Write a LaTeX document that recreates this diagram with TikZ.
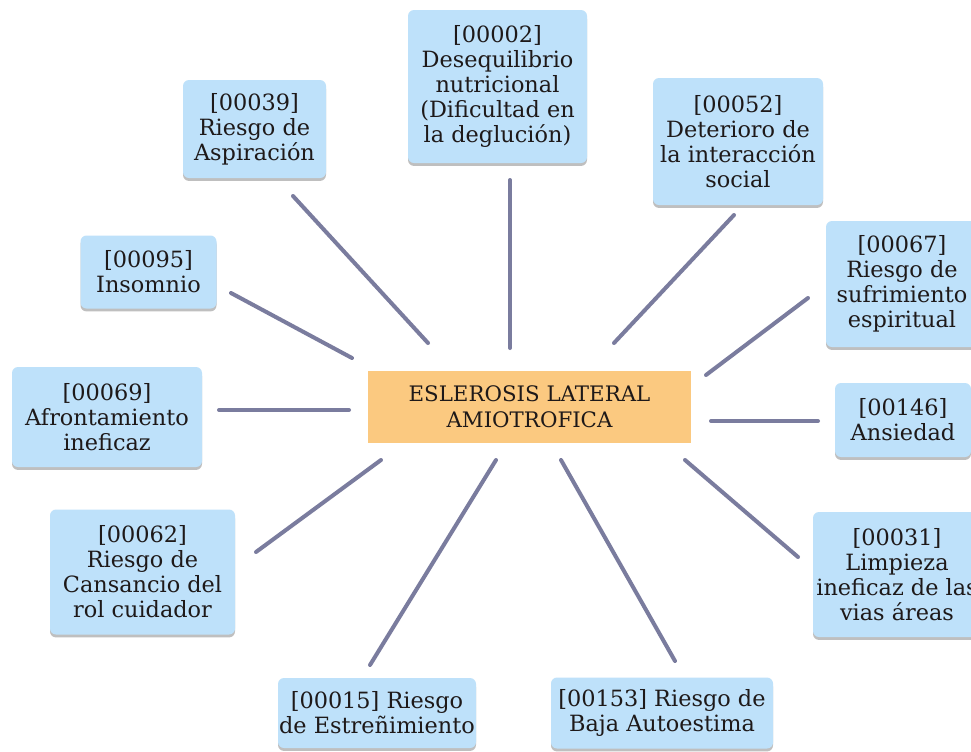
\documentclass[tikz,border=0pt]{standalone}
\usepackage{fontspec}
\setmainfont{DejaVu Serif}
\usetikzlibrary{shadows}
\definecolor{boxblue}{RGB}{190,225,250}
\definecolor{boxorange}{RGB}{251,201,128}
\definecolor{linkcol}{RGB}{122,124,158}
\definecolor{txtcol}{RGB}{30,25,25}
\tikzset{
  nbox/.style={rectangle, rounded corners=4.5pt, fill=boxblue, inner sep=0pt,
    align=center, text=txtcol, font=\fontsize{16.8}{18.75}\selectfont,
    drop shadow={shadow xshift=0pt, shadow yshift=-2.2pt, fill=black, opacity=0.25}},
  cbox/.style={rectangle, fill=boxorange, inner sep=0pt, align=center, text=txtcol,
    font=\fontsize{16}{19.5}\selectfont},
  link/.style={draw=linkcol, line width=3pt, line cap=round}
}
\begin{document}
\begin{tikzpicture}[x=0.75pt, y=-0.75pt]
\useasboundingbox (0,0) rectangle (971,751);
\clip (0,0) rectangle (971,751);
\fill[white] (0,0) rectangle (971,751);

\node[cbox, minimum width=242.25pt, minimum height=54pt] (c) at (529.5,407) {ESLEROSIS LATERAL\\AMIOTROFICA};

\node[nbox, minimum width=134.25pt, minimum height=114.75pt] (b02) at (497.5,86.5) {[00002]\\Desequilibrio\\nutricional\\(Dificultad en\\la deglución)};
\node[nbox, minimum width=107.25pt, minimum height=73.5pt] (b39) at (254.5,129) {[00039]\\Riesgo de\\Aspiración};
\node[nbox, minimum width=127.5pt, minimum height=95.25pt] (b52) at (738,141.5) {[00052]\\Deterioro de\\la interacción\\social};
\node[nbox, minimum width=114pt, minimum height=94.5pt] (b67) at (902,284) {[00067]\\Riesgo de\\sufrimiento\\espiritual};
\node[nbox, minimum width=102pt, minimum height=54.75pt] (b95) at (148.5,272) {[00095]\\Insomnio};
\node[nbox, minimum width=142.5pt, minimum height=75pt] (b69) at (107,417) {[00069]\\Afrontamiento\\ineficaz};
\node[nbox, minimum width=102pt, minimum height=55.5pt] (b146) at (903,420) {[00146]\\Ansiedad};
\node[nbox, minimum width=138.75pt, minimum height=93.75pt] (b62) at (142.5,572) {[00062]\\Riesgo de\\Cansancio del\\rol cuidador};
\node[nbox, minimum width=126pt, minimum height=93.75pt] (b31) at (897,574.5) {[00031]\\Limpieza\\ineficaz de las\\vias áreas};
\node[nbox, minimum width=148.5pt, minimum height=52.5pt] (b15) at (377,713) {[00015] Riesgo\\de Estreñimiento};
\node[nbox, minimum width=166.5pt, minimum height=53.25pt] (b153) at (662,713) {[00153] Riesgo de\\Baja Autoestima};

% connector end points (lines float between the boxes)
\coordinate (e02a) at (510,180);  \coordinate (e02b) at (510,348);
\coordinate (e39a) at (293,196);  \coordinate (e39b) at (428,343);
\coordinate (e52a) at (734,215);  \coordinate (e52b) at (614,343);
\coordinate (e95a) at (231,293);  \coordinate (e95b) at (352,358);
\coordinate (e67a) at (808,298);  \coordinate (e67b) at (706,375);
\coordinate (e69a) at (219,410);  \coordinate (e69b) at (349,410);
\coordinate (e146a) at (818,421); \coordinate (e146b) at (711,421);
\coordinate (e62a) at (256,552);  \coordinate (e62b) at (381,460);
\coordinate (e31a) at (798,557);  \coordinate (e31b) at (685,460);
\coordinate (e15a) at (370,665);  \coordinate (e15b) at (496,460);
\coordinate (e153a) at (675,661); \coordinate (e153b) at (561,460);

\foreach \k in {02,39,52,95,67,69,146,62,31,15,153}{
  \draw[link] (e\k a) -- (e\k b);
}
\end{tikzpicture}
\end{document}
